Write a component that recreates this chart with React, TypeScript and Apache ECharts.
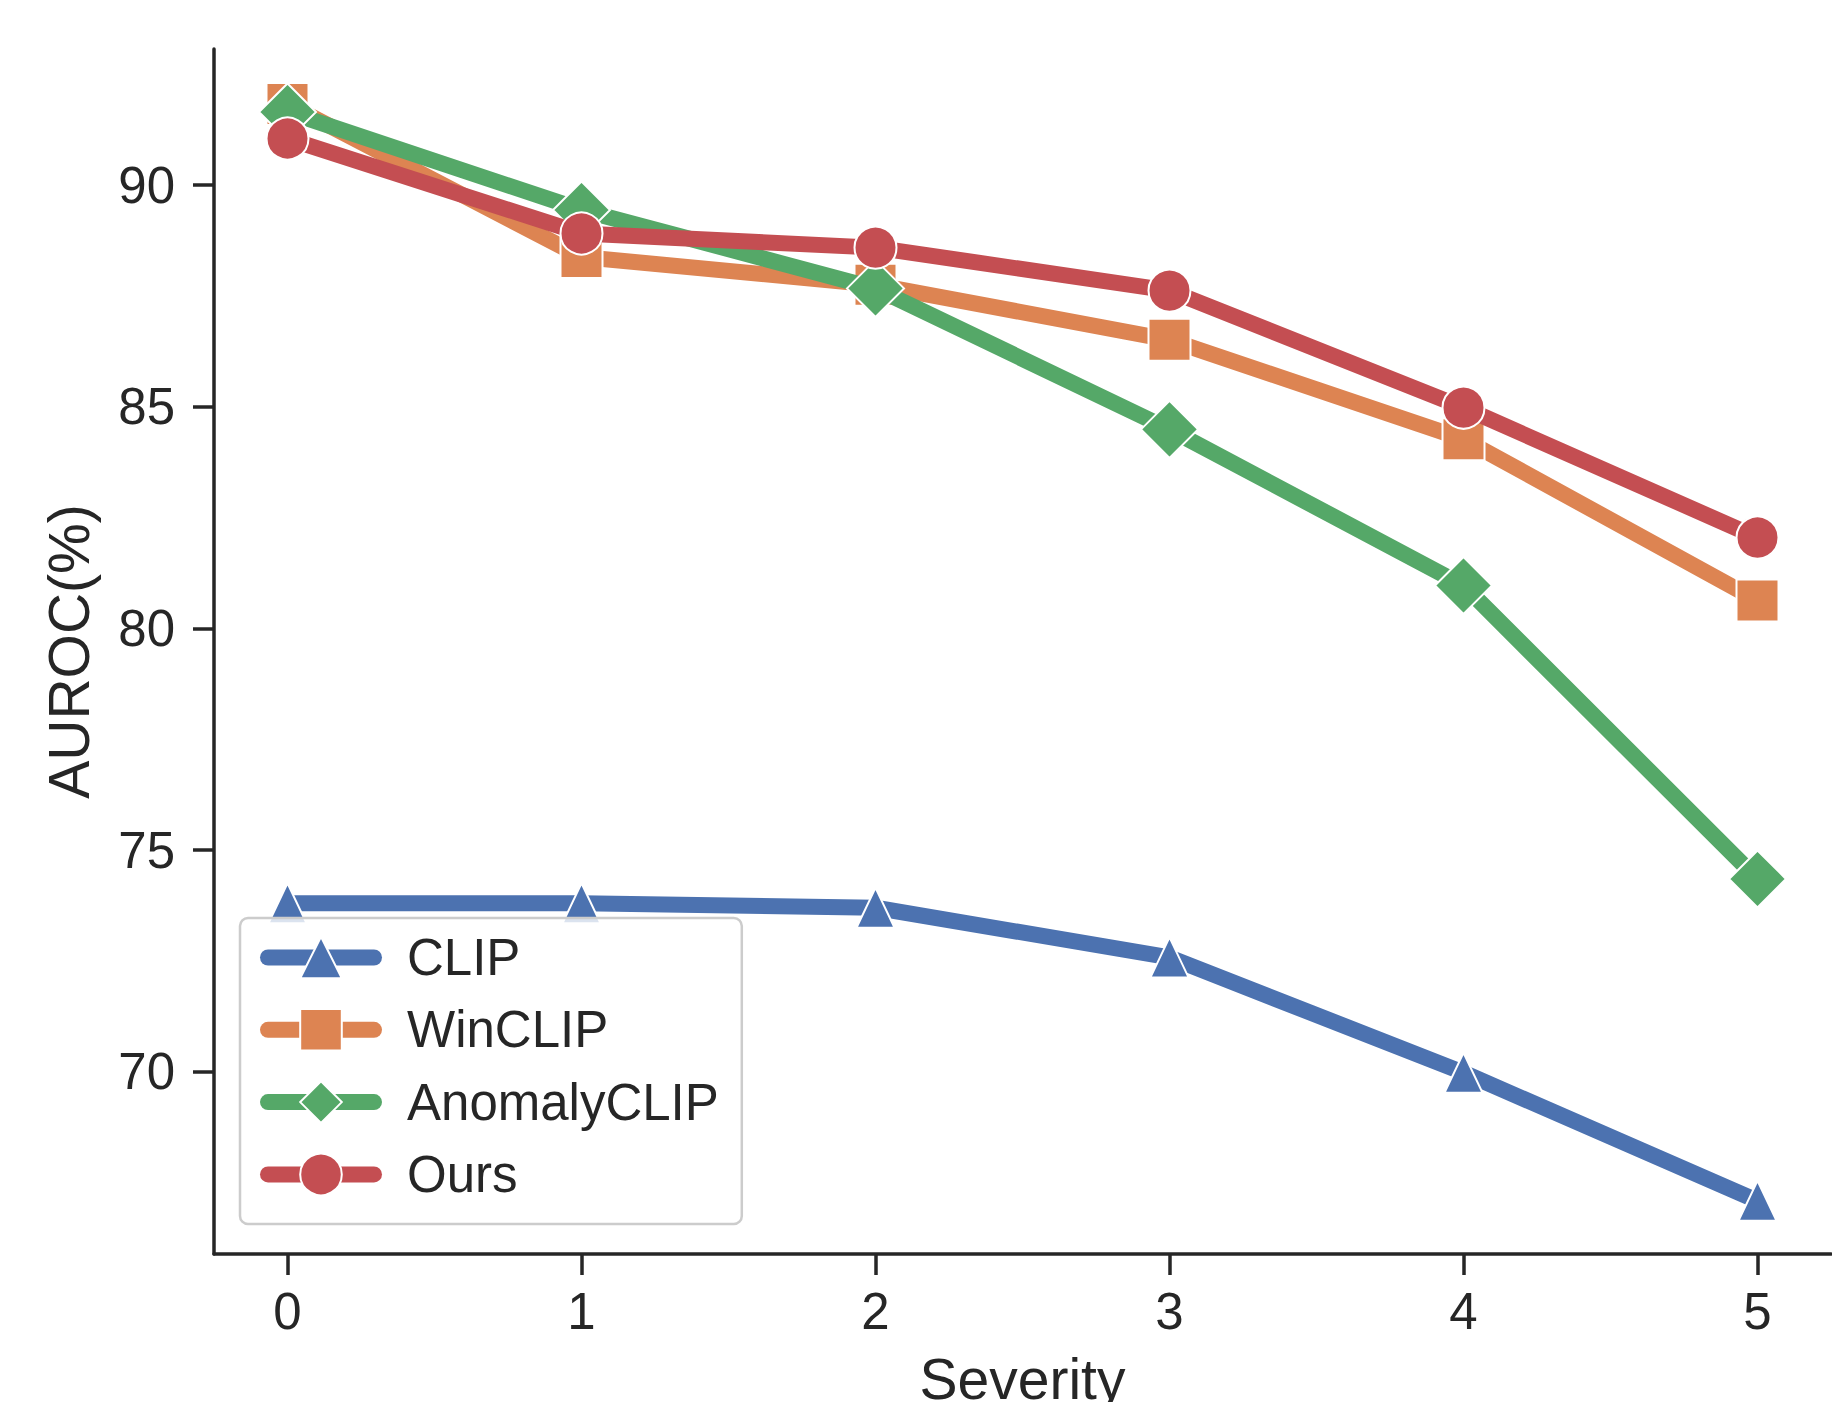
import React, { useEffect, useRef } from "react";
import * as echarts from "echarts";

const severity = [0, 1, 2, 3, 4, 5];
const clip = [73.8, 73.8, 73.7, 72.58, 69.98, 67.09];
const winclip = [91.83, 88.38, 87.75, 86.51, 84.27, 80.63];
const anomalyclip = [91.65, 89.44, 87.67, 84.49, 80.97, 74.35];
const ours = [91.05, 88.91, 88.59, 87.62, 84.98, 82.05];
const xTicks = [0, 1, 2, 3, 4, 5];
const yTicks = [70, 75, 80, 85, 90];

const seriesDefs = [
  { name: "CLIP", values: clip, color: "#4C72B0", symbol: "triangle", size: [38, 40] },
  { name: "WinCLIP", values: winclip, color: "#DD8452", symbol: "rect", size: [42, 42] },
  { name: "AnomalyCLIP", values: anomalyclip, color: "#55A868", symbol: "diamond", size: [57, 57] },
  { name: "Ours", values: ours, color: "#C44E52", symbol: "circle", size: [42, 42] },
];

const FONT = "'Liberation Sans', Arial, Helvetica, sans-serif";
const TEXT = "#262626";

export default function App() {
  const ref = useRef<HTMLDivElement>(null);
  useEffect(() => {
    if (!ref.current) return;
    document.body.style.margin = "0";
    document.documentElement.style.overflow = "hidden";
    document.body.style.overflow = "hidden";
    const chart = echarts.init(ref.current, null, { renderer: "svg" });
    const option: any = {
      animation: false,
      backgroundColor: "#ffffff",
      textStyle: { fontFamily: FONT, color: TEXT },
      grid: {
        left: 214,
        width: 1617,
        top: 49,
        height: 1205,
        containLabel: false,
        outerBoundsMode: "none",
      },
      xAxis: {
        type: "value",
        min: -0.25,
        max: 5.25,
        name: "Severity",
        nameLocation: "middle",
        nameGap: 96,
        nameTextStyle: { fontSize: 57, color: TEXT, fontFamily: FONT },
        axisLine: { show: true, onZero: false, lineStyle: { color: TEXT, width: 3.5 } },
        axisTick: { show: true, customValues: xTicks, length: 21, inside: false, lineStyle: { color: TEXT, width: 3.5 } },
        axisLabel: { customValues: xTicks, fontSize: 51, margin: 32, color: TEXT, fontFamily: FONT },
        splitLine: { show: false },
      },
      yAxis: {
        type: "value",
        min: 65.89,
        max: 93.07,
        name: "AUROC(%)",
        nameLocation: "middle",
        nameGap: 117,
        nameTextStyle: { fontSize: 57, color: TEXT, fontFamily: FONT },
        axisLine: { show: true, onZero: false, lineStyle: { color: TEXT, width: 3.5 } },
        axisTick: { show: true, customValues: yTicks, length: 21, inside: false, lineStyle: { color: TEXT, width: 3.5 } },
        axisLabel: { customValues: yTicks, fontSize: 51, margin: 39, color: TEXT, fontFamily: FONT },
        splitLine: { show: false },
      },
      legend: {
        orient: "vertical",
        left: 240,
        top: 918,
        padding: [14, 23, 24, 20],
        itemWidth: 106,
        itemHeight: 52,
        itemGap: 21.3,
        backgroundColor: "rgba(255,255,255,0.8)",
        borderColor: "#cccccc",
        borderWidth: 2.5,
        borderRadius: 8,
        textStyle: { fontSize: 51, color: TEXT, fontFamily: FONT, padding: [0, 0, 0, 28] },
        lineStyle: { width: 16 },
        data: seriesDefs.map((s) => s.name),
      },
      series: seriesDefs.map((s, k) => ({
        type: "line",
        name: s.name,
        data: severity.map((x, i) => [x, s.values[i]]),
        symbol: s.symbol,
        symbolSize: s.size,
        showSymbol: true,
        z: 2 + k,
        lineStyle: { width: 16, color: s.color, cap: "round", join: "round" },
        itemStyle: { color: s.color, borderColor: "#ffffff", borderWidth: 2 },
        emphasis: { disabled: true },
      })),
    };
    chart.setOption(option);
    return () => chart.dispose();
  }, []);
  return <div ref={ref} style={{ width: 1832, height: 1402 }} />;
}
